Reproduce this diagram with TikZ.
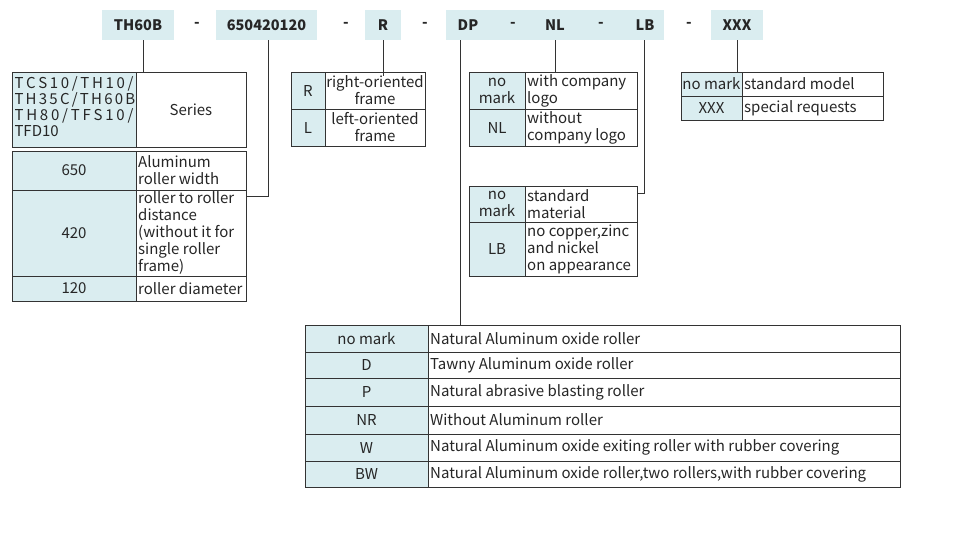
\documentclass[tikz,border=0pt]{standalone}
\usepackage{fontspec}
\setmainfont{Noto Sans CJK SC}
\definecolor{kb}{HTML}{DAEDF0}
\definecolor{ln}{HTML}{333333}
\newcommand\cellf{\fontsize{15}{17}\selectfont}
\newcommand\kc[6]{\draw[ln,line width=1pt,fill=kb] (#2,#3) rectangle (#4,#5); \node[align=center,font=\cellf,inner sep=0pt,text=black!85] (#1) at ({(#2+#4)/2},{(#3+#5)/2}) {#6};}
\newcommand\vc[6]{\draw[ln,line width=1pt,fill=white] (#2,#3) rectangle (#4,#5); \node[align=left,anchor=west,font=\cellf,inner sep=0pt,text=black!85] (#1) at ({#2+2},{(#3+#5)/2}) {#6};}
\newcommand\vcc[6]{\draw[ln,line width=1pt,fill=white] (#2,#3) rectangle (#4,#5); \node[align=center,font=\cellf,inner sep=0pt,text=black!85] (#1) at ({(#2+#4)/2},{(#3+#5)/2}) {#6};}
\tikzset{code/.style={fill=kb,font=\fontsize{14.5}{16}\selectfont\bfseries,text=black!85,minimum height=30pt,inner sep=0pt,anchor=center},
sepmark/.style={font=\fontsize{14.5}{16}\selectfont\bfseries,text=black!85},
conn/.style={ln,line width=1pt}}
\begin{document}
\begin{tikzpicture}[x=1pt,y=-1pt]
\useasboundingbox (0,0) rectangle (970,536);
% code row
\node[code,minimum width=72pt] (th) at (138,25) {TH60B};
\node[sepmark] (d1) at (197,25) {-};
\node[code,minimum width=101pt] (num) at (266.5,25) {650420120};
\node[sepmark] (d2) at (346,25) {-};
\node[code,minimum width=36pt] (r) at (383,25) {R};
\node[sepmark] (d3) at (425,25) {-};
\node[code,minimum width=218pt] (band) at (555,25) {};
\node[sepmark] (dp) at (468,25) {DP};
\node[sepmark] (d4) at (513,25) {-};
\node[sepmark] (nl) at (555,25) {NL};
\node[sepmark] (d5) at (601,25) {-};
\node[sepmark] (lb) at (645,25) {LB};
\node[sepmark] (d6) at (689,25) {-};
\node[code,minimum width=52pt] (xxx) at (737,25) {XXX};
% series table
\kc{ser}{12}{72}{136}{147}{\begin{tabular}{@{}l@{}}\makebox[119pt][s]{T C S 1 0 / T H 1 0 /}\\[-1pt]\makebox[119pt][s]{T H 3 5 C / T H 6 0 B /}\\[-1pt]\makebox[119pt][s]{T H 8 0 / T F S 1 0 /}\\[-1pt]TFD10\end{tabular}}
\vcc{serv}{136}{72}{246}{147}{Series}
\kc{k650}{12}{151}{136}{190}{650}
\vc{v650}{136}{151}{246}{190}{Aluminum\\roller width}
\kc{k420}{12}{190}{136}{276}{420}
\vc{v420}{136}{190}{246}{276}{roller to roller\\distance\\(without it for\\single roller\\frame)}
\kc{k120}{12}{276}{136}{301}{120}
\vc{v120}{136}{276}{246}{301}{roller diameter}
% R table
\kc{kR}{291}{72}{325}{109}{R}
\vcc{vR}{325}{72}{425}{109}{right-oriented\\frame}
\kc{kL}{291}{109}{325}{146}{L}
\vcc{vL}{325}{109}{425}{146}{left-oriented\\frame}
% NL table
\kc{knm}{469}{72}{525}{109}{no\\mark}
\vc{vnm}{525}{72}{637}{109}{with company\\logo}
\kc{knl}{469}{109}{525}{146}{NL}
\vc{vnl}{525}{109}{637}{146}{without\\company logo}
% LB table
\kc{klm}{469}{186}{525}{222}{no\\mark}
\vc{vlm}{525}{186}{637}{222}{standard\\material}
\kc{klb}{469}{222}{525}{276}{LB}
\vc{vlb}{525}{222}{637}{276}{no copper,zinc\\and nickel\\on appearance}
% XXX table
\kc{kxm}{681}{72}{742}{96}{no mark}
\vc{vxm}{742}{72}{883}{96}{standard model}
\kc{kxx}{681}{96}{742}{120}{XXX}
\vc{vxx}{742}{96}{883}{120}{special requests}
% DP table
\kc{b1}{305}{325}{428}{352}{no mark}
\vc{c1}{428}{325}{900}{352}{Natural Aluminum oxide roller}
\kc{b2}{305}{352}{428}{378}{D}
\vc{c2}{428}{352}{900}{378}{Tawny Aluminum oxide roller}
\kc{b3}{305}{378}{428}{406}{P}
\vc{c3}{428}{378}{900}{406}{Natural abrasive blasting roller}
\kc{b4}{305}{406}{428}{434}{NR}
\vc{c4}{428}{406}{900}{434}{Without Aluminum roller}
\kc{b5}{305}{434}{428}{461}{W}
\vc{c5}{428}{434}{900}{461}{Natural Aluminum oxide exiting roller with rubber covering}
\kc{b6}{305}{461}{428}{487}{BW}
\vc{c6}{428}{461}{900}{487}{Natural Aluminum oxide roller,two rollers,with rubber covering}
% connectors
\coordinate (pTH) at (143,40); \coordinate (pTHe) at (143,72);
\draw[conn] (pTH) -- (pTHe);
\coordinate (pN) at (268,40); \coordinate (pNc) at (268,196); \coordinate (pNe) at (246,196);
\draw[conn] (pN) -- (pNc) -- (pNe);
\draw[conn] (r.south) -- (r.south |- vR.north);
\coordinate (pDP) at (460,40); \coordinate (pDPe) at (460,325);
\draw[conn] (pDP) -- (pDPe);
\coordinate (pNL) at (555,40); \coordinate (pNLe) at (555,72);
\draw[conn] (pNL) -- (pNLe);
\coordinate (pLB) at (644,40); \coordinate (pLBc) at (644,193); \coordinate (pLBe) at (637,193);
\draw[conn] (pLB) -- (pLBc) -- (pLBe);
\draw[conn] (xxx.south) -- (xxx.south |- 0,72);
\end{tikzpicture}
\end{document}
